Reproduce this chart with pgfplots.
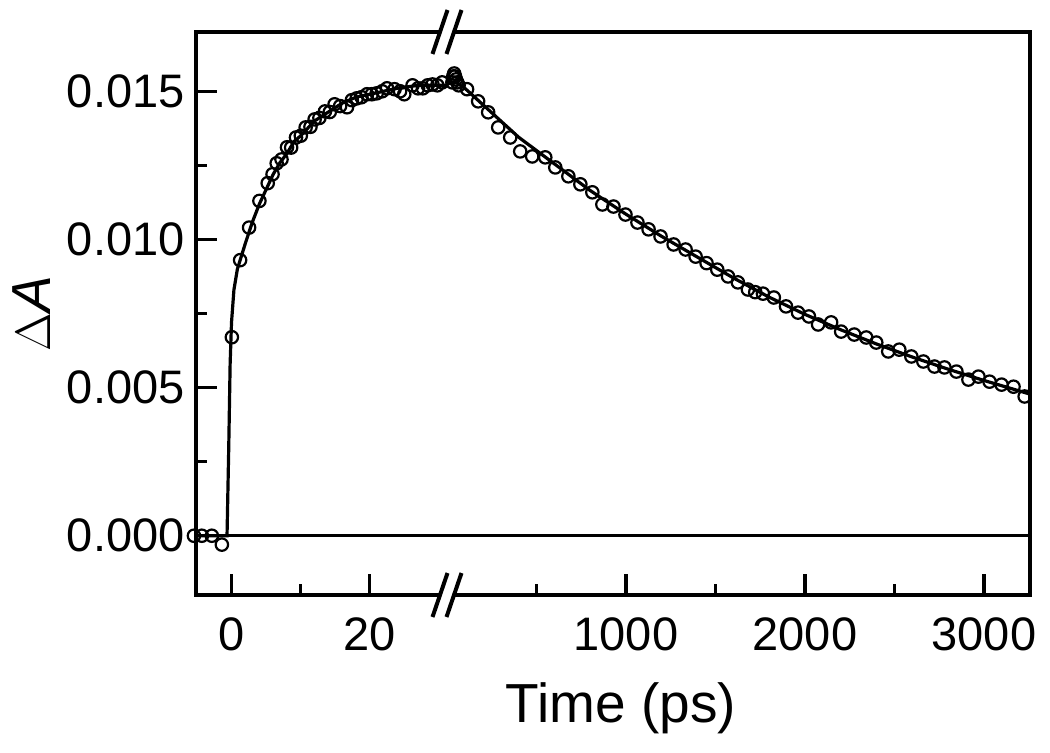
\documentclass[border=0pt]{standalone}
\usepackage{pgfplots}
\pgfplotsset{compat=1.18}
\usepackage{fontspec}
\setmainfont{Liberation Sans}

\pgfplotsset{
  brk/.style={
    scale only axis,
    height=281.5pt,
    ymin=-0.002, ymax=0.017,
    axis x line*=box,
    xtick pos=left,
    scaled x ticks=false, scaled y ticks=false,
    axis line style={line width=2pt, line cap=rect},
    every tick/.style={line width=1.6pt, black},
    major tick length=10.5pt, minor tick length=5.5pt,
    tick label style={font=\fontsize{23.5}{28}\selectfont},
    xticklabel style={inner sep=0pt, yshift=-11pt},
    yticklabel style={inner sep=0pt, xshift=-5.5pt},
    label style={font=\fontsize{27.5}{33}\selectfont},
    clip=false,
  },
  dat/.style={only marks, mark=o, mark size=3.1pt, mark options={line width=1.1pt, black}},
  fitl/.style={black, line width=1.6pt, no marks},
}

\begin{document}
\begin{tikzpicture}
\path[use as bounding box] (0pt,0pt) rectangle (525pt,376pt);

% left segment
\begin{axis}[brk,
  at={(98pt,78.5pt)}, anchor=south west,
  width=125.5pt,
  xmin=-5.2, xmax=31.2,
  axis y line*=left, ytick pos=left,
  xtick={0,20}, xticklabels={0,20},
  minor xtick={10},
  ytick={0,0.005,0.01,0.015}, yticklabels={0.000,0.005,0.010,0.015},
  minor ytick={0.0025,0.0075,0.0125},
  ylabel={$\Delta$\textit{A}},
  ylabel style={at={(axis description cs:-0.657,0.5)}, anchor=center},
]
\addplot[fitl] coordinates {(-5.2,0) (31.2,0)};
\addplot[fitl] coordinates {
(-5.2,0) (-0.7,0) (-0.45,0.0030) (-0.25,0.0058) (-0.05,0.0072) (0.3,0.0083)
(0.8,0.0090) (1.2,0.0093) (2,0.0099) (3,0.0106) (4,0.0112) (5,0.0117)
(6,0.0122) (7,0.0126) (8,0.0129) (9,0.0133) (10,0.0135) (12,0.0140)
(14,0.0143) (16,0.0146) (18,0.0148) (20,0.0149) (22,0.0150) (24,0.0151)
(27,0.0152) (31.2,0.0152)};
\addplot[dat] coordinates {
(-5.5,0) (-4.35,0) (-2.9,0) (-1.45,-0.0003)
(0,0.0067) (1.2,0.0093) (2.5,0.0104) (4.0,0.0113) (5.2,0.0119)
(5.9,0.0122) (6.5,0.01257) (7.2,0.0127) (8.0,0.01311) (8.6,0.0131)
(9.3,0.01344) (10.0,0.0135) (10.7,0.01378) (11.4,0.0138) (12.0,0.01405)
(12.7,0.0141) (13.5,0.01432) (14.2,0.0143) (14.9,0.01456) (15.7,0.0145)
(16.7,0.01446) (17.4,0.0147) (18.1,0.01476) (18.8,0.0148) (19.6,0.0149)
(20.3,0.0149) (21.0,0.01493) (21.8,0.0150) (22.5,0.0151) (23.6,0.01507)
(24.4,0.0150) (25.0,0.0149) (26.2,0.0152) (27.0,0.0151) (27.7,0.0151)
(28.4,0.0152) (29.1,0.01523) (29.8,0.0152) (30.5,0.0153)};
\end{axis}

% right segment
\begin{axis}[brk,
  at={(223.5pt,78.5pt)}, anchor=south west,
  width=291.5pt,
  xmin=0, xmax=3257,
  axis y line*=right, ytick=\empty,
  xtick={1000,2000,3000}, xticklabels={1000,2000,3000},
  minor xtick={500,1500,2500},
  xlabel={Time (ps)},
  xlabel style={at={(axis description cs:0.2985,-0.2256)}, anchor=base},
]
\addplot[fitl] coordinates {(0,0) (3257,0)};
\addplot[fitl] coordinates {
(0,0.01525) (50,0.0153) (100,0.0151) (200,0.01455) (300,0.0140) (400,0.01345)
(500,0.0130) (600,0.01255) (700,0.0121) (800,0.01165) (900,0.01125)
(1000,0.01085) (1200,0.01010) (1400,0.00940) (1600,0.0087) (1800,0.00805)
(2000,0.00747) (2200,0.00695) (2400,0.00647) (2600,0.00603) (2800,0.00562)
(3000,0.00524) (3257,0.00478)};
\addplot[dat] coordinates {
(30,0.0153) (35,0.0155) (40,0.0156) (45,0.0155) (50,0.0154) (57,0.0153) (65,0.0152)
(112,0.01507) (174,0.01466) (230,0.01429) (286,0.01378) (353,0.01344)
(409,0.01297) (476,0.01280) (549,0.01277) (605,0.01243) (678,0.01213)
(745,0.01186) (812,0.01159) (868,0.01118) (930,0.01111) (997,0.01084)
(1064,0.01057) (1126,0.01034) (1193,0.01010) (1266,0.00983) (1333,0.00966)
(1389,0.00942) (1450,0.00920) (1510,0.00898) (1570,0.00875) (1625,0.00855)
(1681,0.00831) (1722,0.00822) (1765,0.00817) (1826,0.00804) (1894,0.00774)
(1961,0.00753) (2022,0.00740) (2073,0.00713) (2146,0.00720) (2202,0.00689)
(2275,0.00679) (2342,0.00669) (2398,0.00652) (2465,0.00622) (2527,0.00628)
(2594,0.00605) (2661,0.00588) (2723,0.00571) (2779,0.00568) (2846,0.00554)
(2913,0.00527) (2969,0.00537) (3031,0.00520) (3098,0.00510) (3165,0.00503)
(3227,0.00470)};
\end{axis}

% axis break marks
\foreach \yy in {360pt,78.5pt}{
  \fill[white] (220pt,\yy) ++(0,-1.6pt) rectangle (227pt,\yy+1.6pt);
  \draw[line width=2pt] (216.25pt,\yy-11pt) -- (223.75pt,\yy+11pt);
  \draw[line width=2pt] (223.25pt,\yy-11pt) -- (230.75pt,\yy+11pt);
}
\end{tikzpicture}
\end{document}
